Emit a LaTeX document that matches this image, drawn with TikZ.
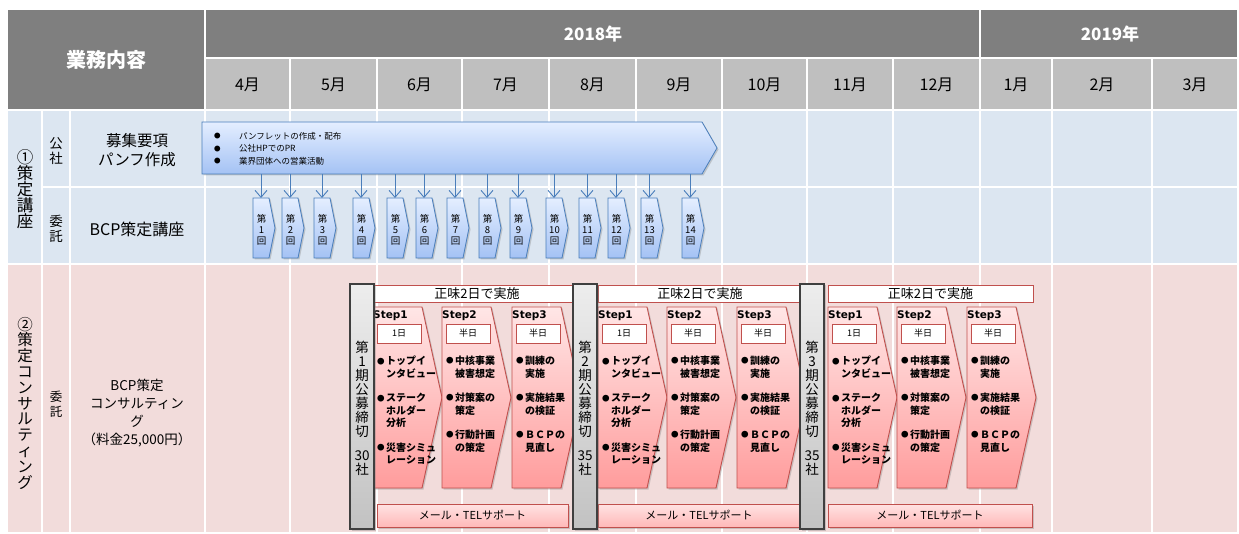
\documentclass[tikz,border=0pt]{standalone}
\usepackage{fontspec}
\setmainfont{Noto Sans CJK JP}
\newfontfamily\latf{DejaVu Sans}
\usetikzlibrary{arrows.meta,shadows}
\definecolor{hdark}{HTML}{7F7F7F}
\definecolor{hmon}{HTML}{BFBFBF}
\definecolor{blbg}{HTML}{DCE6F1}
\definecolor{pkbg}{HTML}{F2DCDB}
\definecolor{blline}{HTML}{4A7EBB}
\definecolor{bltop}{HTML}{E4EEFF}
\definecolor{blbot}{HTML}{A4C2F4}
\definecolor{rdline}{HTML}{C0504D}
\definecolor{pktop}{HTML}{FFE6E6}
\definecolor{pkbot}{HTML}{FF9C9C}
\definecolor{sptop}{HTML}{FFE3E3}
\definecolor{spbot}{HTML}{FFB8B8}
\definecolor{grtop}{HTML}{EDEDED}
\definecolor{grbot}{HTML}{C2C2C2}
\definecolor{grline}{HTML}{3F3F3F}
\newcommand\fsz[2]{\fontsize{#1}{#2}\selectfont}
\newcommand\mybul{\makebox[9pt][l]{\raisebox{0.8pt}{\fsz{7.5}{7.5}●}}}
\newcommand\myind{\hspace*{9pt}}
\newcommand\stepTxtA{\mybul トップイ\\\myind ンタビュー\\[12pt]\mybul ステーク\\\myind ホルダー\\\myind 分析\\[12pt]\mybul 災害シミュ\\\myind レーション}
\newcommand\stepTxtB{\mybul 中核事業\\\myind 被害想定\\[12pt]\mybul 対策案の\\\myind 策定\\[12pt]\mybul 行動計画\\\myind の策定}
\newcommand\stepTxtC{\mybul 訓練の\\\myind 実施\\[12pt]\mybul 実施結果\\\myind の検証\\[12pt]\mybul ＢＣＰの\\\myind 見直し}
\tikzset{
  cell/.style={draw=white, line width=2.2pt},
  shd/.style={drop shadow={opacity=0.35, shadow xshift=1.5pt, shadow yshift=-1.5pt}},
  bigarrow/.style={draw=blline, line width=0.8pt, top color=bltop, bottom color=blbot, shd},
  sessbox/.style={draw=blline, line width=0.8pt, top color=bltop, bottom color=blbot, shd},
  sesslbl/.style={inner sep=0pt, align=center, font=\fsz{9.5}{11}},
  sarrow/.style={draw=blline, line width=0.9pt, -{Straight Barb[length=7pt,width=12pt]}},
  stepshape/.style={draw=rdline, line width=0.9pt, top color=pktop, bottom color=pkbot, shd},
  steplbl/.style={inner sep=0pt, anchor=west, font=\latf\bfseries\fsz{10.5}{12}},
  daybox/.style={draw=rdline, fill=white, line width=0.7pt, minimum width=44pt, minimum height=19pt, inner sep=0pt, font=\fsz{9}{10}},
  bullets/.style={inner sep=0pt, anchor=north west, align=left, font=\bfseries\fsz{10}{12.5}},
  hdrbox/.style={draw=rdline, fill=white, line width=0.9pt, minimum height=17pt, inner sep=0pt, font=\fsz{13}{14}},
  supbox/.style={draw=rdline, line width=0.9pt, top color=sptop, bottom color=spbot, minimum height=23pt, inner sep=0pt, font=\fsz{11}{12}, shd},
  graybox/.style={draw=grline, line width=1.2pt, top color=grtop, bottom color=grbot, shd},
  graytxt/.style={inner sep=0pt, align=center, font=\fsz{13.5}{14}},
  hdrtxt/.style={text=white, font=\bfseries\fsz{17}{18}},
  mtxt/.style={font=\fsz{16}{17}},
  lbl/.style={align=center, inner sep=0pt},
}
\begin{document}
\begin{tikzpicture}[x=1pt,y=-1pt]
\useasboundingbox (0,0) rectangle (1239,534);
% ---------- header ----------
\draw[cell, fill=hdark] (7,9) rectangle (205,110);
\node[text=white, font=\bfseries\fsz{20}{22}] (hd) at (106,60) {業務内容};
\draw[cell, fill=hdark] (205,9) rectangle (980,58);
\draw[cell, fill=hdark] (980,9) rectangle (1238,58);
\node[hdrtxt] (y18) at (593,34) {2018年};
\node[hdrtxt] (y19) at (1110,34) {2019年};
% ---------- left cells ----------
\draw[cell, fill=blbg] (7,110) rectangle (42,264);
\draw[cell, fill=blbg] (42,110) rectangle (70,187);
\draw[cell, fill=blbg] (42,187) rectangle (70,264);
\draw[cell, fill=blbg] (70,110) rectangle (205,187);
\draw[cell, fill=blbg] (70,187) rectangle (205,264);
\draw[cell, fill=pkbg] (7,264) rectangle (42,533);
\draw[cell, fill=pkbg] (42,264) rectangle (70,533);
\draw[cell, fill=pkbg] (70,264) rectangle (205,533);
% ---------- month columns ----------
\foreach \a/\b/\m [count=\i] in {205/290/4月,290/377/5月,377/462/6月,462/549/7月,549/636/8月,636/722/9月,722/807/10月,807/893/11月,893/980/12月,980/1052/1月,1052/1152/2月,1152/1238/3月}{
  \draw[cell, fill=hmon] (\a,58) rectangle (\b,110);
  \draw[cell, fill=blbg] (\a,110) rectangle (\b,187);
  \draw[cell, fill=blbg] (\a,187) rectangle (\b,264);
  \draw[cell, fill=pkbg] (\a,264) rectangle (\b,533);
  \node[mtxt] (m\i) at ({(\a+\b)/2},85) {\m};
}
% ---------- left labels ----------
\node[lbl, font=\fsz{16.5}{16}] (sec1) at (25,189) {①\\策\\定\\講\\座};
\node[lbl, font=\fsz{13.5}{15.5}] (ko) at (56,151) {公\\社};
\node[lbl, font=\fsz{13.5}{15.5}] (it1) at (56,229) {委\\託};
\node[lbl, font=\fsz{15.5}{19}] (bosyu) at (137,150) {募集要項\\パンフ作成};
\node[lbl, font=\fsz{16}{17}] (koza) at (137,229) {BCP策定講座};
\node[lbl, font=\fsz{15.5}{15.8}] (sec2) at (25,403) {②\\策\\定\\コ\\ン\\サ\\ル\\テ\\ィ\\ン\\グ};
\node[lbl, font=\fsz{12.5}{14.5}] (it2) at (56,404) {委\\託};
\node[lbl, font=\fsz{13.5}{18}] (cons) at (137,413) {BCP策定\\コンサルティン\\グ\\（料金25,000円）};
% ---------- blue big arrow ----------
\path[bigarrow] (202,122) -- (702,122) -- (717,148) -- (702,174) -- (202,174) -- cycle;
\node[inner sep=0pt, anchor=west, align=left, font=\fsz{8.5}{12.5}] (pr) at (214,148.5)
  {\makebox[25pt][l]{\raisebox{0.5pt}{\fsz{6.5}{6.5}●}}パンフレットの作成・配布\\
   \makebox[25pt][l]{\raisebox{0.5pt}{\fsz{6.5}{6.5}●}}公社HPでのPR\\
   \makebox[25pt][l]{\raisebox{0.5pt}{\fsz{6.5}{6.5}●}}業界団体への営業活動};
% ---------- sessions ----------
\foreach \x [count=\i] in {253,282,314,353,387,416,447,479,510,546,579,608,641,682}{
  \path[sessbox] (\x,198) -- (\x+16,198) -- (\x+22,228) -- (\x+16,258) -- (\x,258) -- cycle;
  \node[sesslbl] (s\i) at (\x+8.5,230) {第\\\i\\回};
  \coordinate (sa\i) at (\x+8,174);
  \coordinate (sb\i) at (\x+8,198);
  \draw[sarrow] (sa\i) -- (sb\i);
}
% ---------- steps ----------
\foreach \L [count=\g] in {373,598,828}{
  \foreach \o/\n/\t/\d in {0/1/A/1日,69/2/B/半日,139/3/C/半日}{
    \path[stepshape] (\L+\o,307) -- (\L+\o+49,307) -- (\L+\o+69,397.5) -- (\L+\o+49,488) -- (\L+\o,488) -- cycle;
    \node[steplbl] (st\g\n) at (\L+\o,315.5) {Step\n};
    \node[daybox] (d\g\n) at (\L+\o+26,333.5) {\d};
    \node[bullets] (b\g\n) at (\L+\o+4,356) {\csname stepTxt\t\endcsname};
  }
}
% ---------- header boxes ----------
\node[hdrbox, minimum width=206pt] (h1) at (477,293.5) {正味2日で実施};
\node[hdrbox, minimum width=204pt] (h2) at (700,293.5) {正味2日で実施};
\node[hdrbox, minimum width=205pt] (h3) at (930.5,293.5) {正味2日で実施};
% ---------- support boxes ----------
\node[supbox, minimum width=191pt] (sp1) at (472.5,515.5) {メール・TELサポート};
\node[supbox, minimum width=202pt] (sp2) at (699,515.5) {メール・TELサポート};
\node[supbox, minimum width=204pt] (sp3) at (930,515.5) {メール・TELサポート};
% ---------- deadline bars ----------
\foreach \x/\n/\c [count=\i] in {350/1/30,573/2/35,800/3/35}{
  \path[graybox] (\x,284) rectangle (\x+24,529);
  \node[graytxt] (g\i) at (\x+12,408) {第\\\n\\期\\公\\募\\締\\切\\[10pt]\c\\社};
}
\end{tikzpicture}
\end{document}
